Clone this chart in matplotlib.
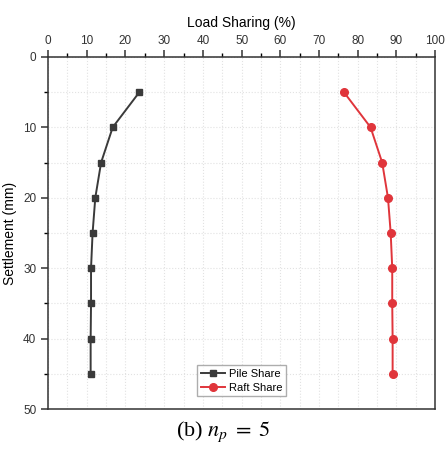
import matplotlib
matplotlib.use("Agg")
import matplotlib.pyplot as plt
from matplotlib.ticker import MultipleLocator

# settlement levels (mm) and load sharing (%)
settlement = [5, 10, 15, 20, 25, 30, 35, 40, 45]
pile_share = [23.6, 16.7, 13.7, 12.2, 11.5, 11.1, 11.1, 11.0, 11.0]
raft_share = [76.4, 83.3, 86.3, 87.8, 88.5, 88.9, 88.9, 89.0, 89.0]

plt.rcParams['font.family'] = ['Liberation Sans', 'DejaVu Sans']
plt.rcParams['mathtext.fontset'] = 'stix'

fig = plt.figure(figsize=(4.45, 4.55), dpi=100)
ax = fig.add_axes([0.108, 0.101, 0.870, 0.774])

ax.plot(pile_share, settlement, color='#3a3a3a', lw=1.4, marker='s', ms=5,
        label='Pile Share')
ax.plot(raft_share, settlement, color='#e0353b', lw=1.4, marker='o', ms=5.5,
        label='Raft Share')

ax.set_xlim(0, 100)
ax.set_ylim(50, 0)
ax.xaxis.set_major_locator(MultipleLocator(10))
ax.xaxis.set_minor_locator(MultipleLocator(5))
ax.yaxis.set_major_locator(MultipleLocator(10))
ax.yaxis.set_minor_locator(MultipleLocator(5))
ax.xaxis.tick_top()
ax.xaxis.set_label_position('top')
ax.tick_params(which='major', length=5, width=1.1, labelsize=8.5,
               colors='#333333')
ax.tick_params(which='minor', length=3, width=1.0)
ax.tick_params(axis='x', pad=2)

ax.set_xlabel('Load Sharing (%)', fontsize=10, labelpad=6)
ax.set_ylabel('Settlement (mm)', fontsize=10, labelpad=4)

ax.grid(True, which='both', color='#e2e2e2', ls=':', lw=0.8)
for s in ax.spines.values():
    s.set_color('#333333')
    s.set_linewidth(1.1)

leg = ax.legend(loc='lower center', bbox_to_anchor=(0.5, 0.02), fontsize=8,
                frameon=True, fancybox=False, edgecolor='#999999',
                handlelength=2.2, borderpad=0.35, labelspacing=0.3,
                handletextpad=0.3)

fig.text(0.5, 0.05, r'(b) $n_p\;=\;5$', ha='center', va='center',
         fontsize=16, family='Liberation Serif')

fig.savefig('out.png', dpi=100)
